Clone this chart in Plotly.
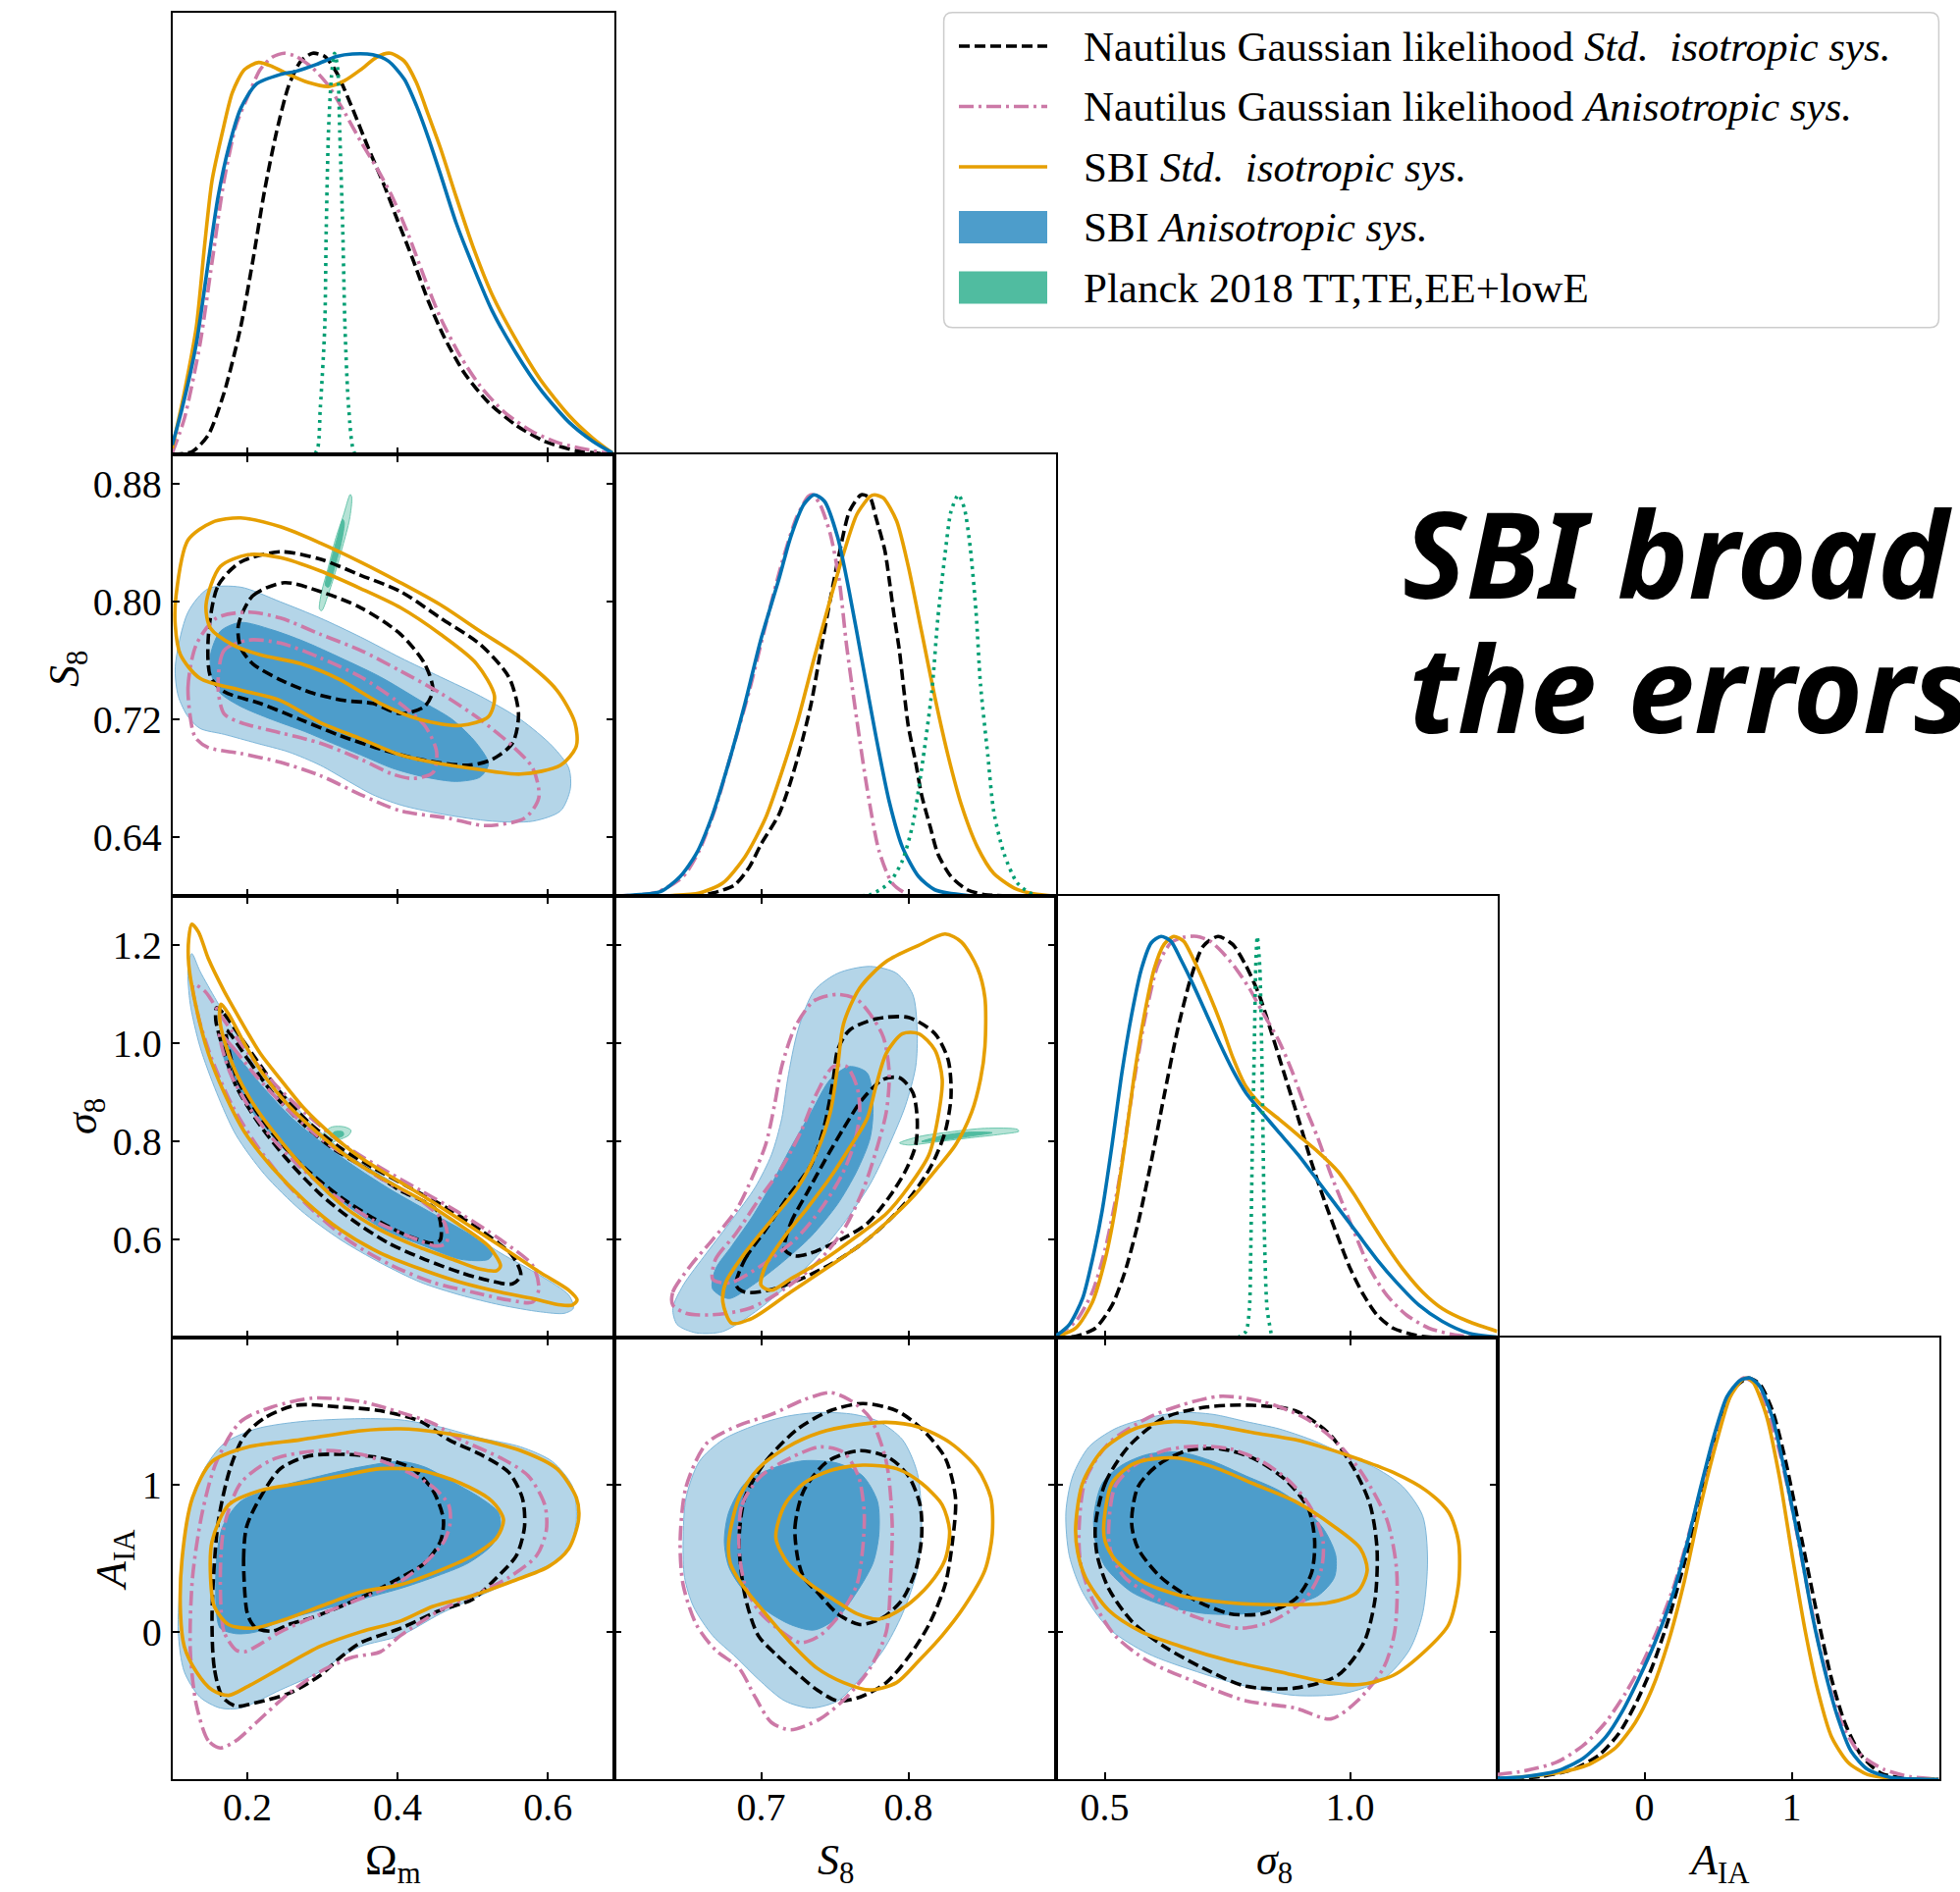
import plotly.graph_objects as go

# ---------------- parameter ranges and ticks ----------------
OM_RANGE = [0.1, 0.688]
S8_RANGE = [0.6, 0.9]
SIG8_RANGE = [0.4, 1.3]
AIA_RANGE = [-1.0, 2.0]
DENS_RANGE = [0.0, 1.1]

OM_XTICKS = [0.2, 0.4, 0.6]
OM_XTICK_TEXT = ["0.2", "0.4", "0.6"]
S8_XTICKS = [0.7, 0.8]
S8_XTICK_TEXT = ["0.7", "0.8"]
S8_YTICKS = [0.64, 0.72, 0.80, 0.88]
S8_YTICK_TEXT = ["0.64", "0.72", "0.80", "0.88"]
SIG8_XTICKS = [0.5, 1.0]
SIG8_XTICK_TEXT = ["0.5", "1.0"]
SIG8_YTICKS = [0.6, 0.8, 1.0, 1.2]
SIG8_YTICK_TEXT = ["0.6", "0.8", "1.0", "1.2"]
AIA_TICKS = [0, 1]
AIA_TICK_TEXT = ["0", "1"]

LEGEND_LABELS = [
    "Nautilus Gaussian likelihood <i>Std.  isotropic sys.</i>",
    "Nautilus Gaussian likelihood <i>Anisotropic sys.</i>",
    "SBI <i>Std.  isotropic sys.</i>",
    "SBI <i>Anisotropic sys.</i>",
    "Planck 2018 TT,TE,EE+lowE",
]

# ---------------- 1D marginals (normalised to peak = 1) ----------------
om_1d_sbi_aniso = dict(
    x=[0.100, 0.113, 0.132, 0.148, 0.161, 0.175, 0.191, 0.212, 0.244, 0.265, 0.292, 0.319, 0.340, 0.367,
       0.388, 0.409, 0.425, 0.441, 0.457, 0.478, 0.500, 0.526, 0.558, 0.590, 0.628, 0.660, 0.686],
    p=[0.024, 0.114, 0.276, 0.480, 0.642, 0.764, 0.862, 0.923, 0.947, 0.955, 0.972, 0.992, 0.998, 0.996,
       0.980, 0.935, 0.870, 0.789, 0.699, 0.577, 0.472, 0.358, 0.252, 0.163, 0.081, 0.033, 0.004])
om_1d_sbi_std = dict(
    x=[0.100, 0.116, 0.132, 0.143, 0.153, 0.167, 0.180, 0.196, 0.215, 0.233, 0.255, 0.281, 0.308, 0.329,
       0.351, 0.372, 0.390, 0.409, 0.425, 0.441, 0.457, 0.478, 0.500, 0.526, 0.558, 0.590, 0.628, 0.660, 0.686],
    p=[0.016, 0.154, 0.317, 0.520, 0.683, 0.805, 0.902, 0.959, 0.977, 0.967, 0.947, 0.927, 0.917, 0.931,
       0.959, 0.990, 1.000, 0.980, 0.927, 0.846, 0.764, 0.642, 0.520, 0.398, 0.285, 0.187, 0.098, 0.041, 0.004])
om_1d_nautilus_aniso = dict(
    x=[0.100, 0.116, 0.137, 0.153, 0.169, 0.185, 0.201, 0.217, 0.233, 0.249, 0.265, 0.287, 0.308, 0.329,
       0.351, 0.372, 0.393, 0.415, 0.436, 0.457, 0.484, 0.510, 0.542, 0.580, 0.617, 0.660, 0.686],
    p=[0.004, 0.089, 0.276, 0.480, 0.683, 0.821, 0.894, 0.959, 0.990, 1.000, 0.992, 0.963, 0.919, 0.854,
       0.780, 0.715, 0.642, 0.545, 0.439, 0.341, 0.244, 0.171, 0.106, 0.057, 0.028, 0.010, 0.002])
om_1d_nautilus_std = dict(
    x=[0.100, 0.127, 0.148, 0.169, 0.191, 0.207, 0.223, 0.239, 0.255, 0.271, 0.287, 0.303, 0.319, 0.340,
       0.361, 0.383, 0.398, 0.420, 0.441, 0.462, 0.489, 0.521, 0.558, 0.596, 0.638, 0.686],
    p=[0.000, 0.008, 0.049, 0.154, 0.317, 0.480, 0.659, 0.805, 0.919, 0.980, 1.000, 0.992, 0.951, 0.862,
       0.764, 0.667, 0.593, 0.488, 0.382, 0.293, 0.203, 0.130, 0.073, 0.033, 0.010, 0.000])
om_1d_planck = dict(
    x=[0.279, 0.292, 0.297, 0.303, 0.305, 0.308, 0.312, 0.316, 0.320, 0.323, 0.327, 0.330, 0.335, 0.343, 0.356],
    p=[0.000, 0.008, 0.114, 0.317, 0.561, 0.805, 0.943, 1.000, 0.967, 0.805, 0.561, 0.317, 0.114, 0.004, 0.000])

s8_1d_sbi_aniso = dict(
    x=[0.600, 0.618, 0.632, 0.645, 0.656, 0.667, 0.678, 0.689, 0.700, 0.712, 0.720, 0.729, 0.736, 0.743,
       0.752, 0.760, 0.769, 0.778, 0.787, 0.796, 0.807, 0.818, 0.840, 0.900],
    p=[0.000, 0.004, 0.012, 0.049, 0.106, 0.203, 0.333, 0.480, 0.642, 0.789, 0.894, 0.976, 1.000, 0.984,
       0.894, 0.756, 0.577, 0.398, 0.236, 0.122, 0.049, 0.016, 0.002, 0.000])
s8_1d_nautilus_aniso = dict(
    x=[0.600, 0.629, 0.647, 0.658, 0.669, 0.680, 0.692, 0.703, 0.714, 0.724, 0.732, 0.735, 0.740, 0.747,
       0.753, 0.758, 0.765, 0.772, 0.780, 0.789, 0.800, 0.818, 0.900],
    p=[0.000, 0.010, 0.049, 0.114, 0.220, 0.358, 0.512, 0.675, 0.829, 0.943, 0.996, 1.000, 0.976, 0.902,
       0.789, 0.626, 0.439, 0.268, 0.114, 0.033, 0.004, 0.000, 0.000])
s8_1d_sbi_std = dict(
    x=[0.600, 0.640, 0.658, 0.674, 0.689, 0.703, 0.714, 0.725, 0.736, 0.747, 0.756, 0.765, 0.774, 0.777,
       0.783, 0.792, 0.800, 0.809, 0.818, 0.827, 0.836, 0.847, 0.858, 0.872, 0.885, 0.900],
    p=[0.000, 0.002, 0.008, 0.033, 0.098, 0.195, 0.309, 0.439, 0.593, 0.740, 0.854, 0.951, 0.996, 1.000,
       0.992, 0.935, 0.821, 0.659, 0.496, 0.350, 0.228, 0.122, 0.057, 0.020, 0.006, 0.000])
s8_1d_nautilus_std = dict(
    x=[0.600, 0.652, 0.667, 0.682, 0.692, 0.700, 0.712, 0.720, 0.727, 0.734, 0.740, 0.747, 0.754, 0.760,
       0.768, 0.774, 0.778, 0.784, 0.787, 0.790, 0.794, 0.797, 0.800, 0.805, 0.809, 0.815, 0.820, 0.829,
       0.840, 0.852, 0.900],
    p=[0.000, 0.002, 0.008, 0.028, 0.073, 0.130, 0.203, 0.285, 0.374, 0.480, 0.602, 0.740, 0.870, 0.959,
       1.000, 0.992, 0.943, 0.862, 0.789, 0.707, 0.610, 0.512, 0.423, 0.333, 0.252, 0.171, 0.106, 0.049,
       0.016, 0.004, 0.000])
s8_1d_planck = dict(
    x=[0.752, 0.774, 0.787, 0.796, 0.803, 0.809, 0.816, 0.820, 0.825, 0.829, 0.834, 0.838, 0.842, 0.846,
       0.849, 0.854, 0.858, 0.865, 0.874, 0.885, 0.900],
    p=[0.000, 0.004, 0.033, 0.089, 0.179, 0.317, 0.512, 0.691, 0.854, 0.959, 1.000, 0.967, 0.870, 0.707,
       0.528, 0.350, 0.211, 0.106, 0.033, 0.004, 0.000])

sig8_1d_sbi_aniso = dict(
    x=[0.400, 0.428, 0.455, 0.475, 0.495, 0.515, 0.535, 0.555, 0.575, 0.595, 0.615, 0.635, 0.655, 0.681,
       0.708, 0.735, 0.761, 0.788, 0.821, 0.855, 0.895, 0.935, 0.975, 1.015, 1.055, 1.095, 1.141, 1.188,
       1.241, 1.300],
    p=[0.004, 0.033, 0.098, 0.195, 0.317, 0.480, 0.659, 0.805, 0.919, 0.984, 1.000, 0.988, 0.943, 0.878,
       0.805, 0.732, 0.667, 0.610, 0.561, 0.512, 0.455, 0.390, 0.325, 0.260, 0.195, 0.138, 0.081, 0.041,
       0.012, 0.002])
sig8_1d_sbi_std = dict(
    x=[0.400, 0.441, 0.475, 0.501, 0.521, 0.541, 0.561, 0.581, 0.601, 0.621, 0.641, 0.661, 0.681, 0.708,
       0.735, 0.761, 0.788, 0.815, 0.855, 0.895, 0.935, 0.975, 1.008, 1.041, 1.075, 1.108, 1.148, 1.188,
       1.241, 1.300],
    p=[0.002, 0.024, 0.089, 0.195, 0.317, 0.480, 0.659, 0.805, 0.919, 0.980, 1.000, 0.988, 0.943, 0.870,
       0.789, 0.699, 0.626, 0.585, 0.545, 0.504, 0.463, 0.415, 0.358, 0.293, 0.228, 0.171, 0.114, 0.073,
       0.041, 0.016])
sig8_1d_nautilus_aniso = dict(
    x=[0.400, 0.441, 0.475, 0.501, 0.528, 0.555, 0.581, 0.608, 0.635, 0.661, 0.688, 0.715, 0.741, 0.768,
       0.795, 0.821, 0.855, 0.881, 0.908, 0.935, 0.961, 0.988, 1.015, 1.041, 1.075, 1.115, 1.161, 1.221,
       1.300],
    p=[0.004, 0.041, 0.114, 0.220, 0.382, 0.602, 0.789, 0.927, 0.984, 0.998, 1.000, 0.988, 0.959, 0.919,
       0.870, 0.813, 0.740, 0.667, 0.577, 0.496, 0.407, 0.325, 0.244, 0.171, 0.106, 0.057, 0.024, 0.006,
       0.000])
sig8_1d_nautilus_std = dict(
    x=[0.400, 0.441, 0.481, 0.515, 0.541, 0.568, 0.595, 0.621, 0.648, 0.675, 0.701, 0.731, 0.761, 0.788,
       0.815, 0.841, 0.868, 0.895, 0.921, 0.948, 0.975, 1.001, 1.028, 1.055, 1.088, 1.135, 1.188, 1.300],
    p=[0.000, 0.004, 0.024, 0.081, 0.163, 0.285, 0.439, 0.602, 0.764, 0.894, 0.976, 1.000, 0.980, 0.927,
       0.854, 0.756, 0.650, 0.545, 0.439, 0.341, 0.252, 0.171, 0.106, 0.057, 0.024, 0.006, 0.000, 0.000])
sig8_1d_planck = dict(
    x=[0.771, 0.788, 0.795, 0.798, 0.801, 0.805, 0.808, 0.811, 0.816, 0.820, 0.823, 0.826, 0.831, 0.841],
    p=[0.000, 0.016, 0.073, 0.236, 0.480, 0.724, 0.927, 1.000, 0.927, 0.724, 0.480, 0.236, 0.073, 0.000])

aia_1d_sbi_aniso = dict(
    x=[-1.000, -0.818, -0.596, -0.418, -0.262, -0.151, -0.040, 0.071, 0.182, 0.293, 0.382, 0.471, 0.560,
       0.649, 0.716, 0.782, 0.871, 0.960, 1.049, 1.138, 1.227, 1.316, 1.404, 1.516, 1.671, 2.000],
    p=[0.003, 0.007, 0.021, 0.052, 0.106, 0.169, 0.250, 0.341, 0.449, 0.593, 0.728, 0.854, 0.953,
       0.994, 1.000, 0.980, 0.899, 0.755, 0.593, 0.413, 0.268, 0.151, 0.070, 0.025, 0.005, 0.000])
aia_1d_sbi_std = dict(
    x=[-1.000, -0.596, -0.373, -0.196, -0.062, 0.049, 0.160, 0.271, 0.382, 0.493, 0.582, 0.660, 0.693,
       0.738, 0.827, 0.916, 1.004, 1.093, 1.182, 1.271, 1.382, 1.516, 1.738, 2.000],
    p=[0.001, 0.016, 0.038, 0.079, 0.142, 0.223, 0.340, 0.494, 0.683, 0.845, 0.953, 0.994, 1.000,
       0.989, 0.908, 0.755, 0.557, 0.368, 0.215, 0.106, 0.043, 0.012, 0.001, 0.000])
aia_1d_nautilus_std = dict(
    x=[-1.000, -0.707, -0.484, -0.307, -0.173, -0.062, 0.049, 0.160, 0.271, 0.382, 0.493, 0.604, 0.704,
       0.782, 0.871, 0.960, 1.071, 1.182, 1.271, 1.360, 1.471, 1.604, 1.804, 2.000],
    p=[0.001, 0.007, 0.025, 0.061, 0.115, 0.187, 0.277, 0.395, 0.539, 0.701, 0.863, 0.971, 1.000,
       0.985, 0.917, 0.791, 0.593, 0.395, 0.250, 0.142, 0.061, 0.016, 0.001, 0.000])
aia_1d_nautilus_aniso = dict(
    x=[-1.000, -0.818, -0.596, -0.418, -0.262, -0.129, -0.018, 0.093, 0.204, 0.316, 0.404, 0.493, 0.582,
       0.671, 0.738, 0.827, 0.916, 1.004, 1.093, 1.182, 1.271, 1.360, 1.471, 1.627, 1.804, 2.000],
    p=[0.012, 0.021, 0.043, 0.084, 0.143, 0.215, 0.287, 0.377, 0.486, 0.630, 0.755, 0.872, 0.962,
       1.000, 0.989, 0.926, 0.818, 0.674, 0.503, 0.341, 0.214, 0.124, 0.061, 0.025, 0.007, 0.001])

# ---------------- 2D credible contours (68% / 95%) ----------------
# Omega_m vs S8
om_s8_sbi_aniso = dict(
    x95=[0.104, 0.121, 0.148, 0.191, 0.244, 0.297, 0.351, 0.404, 0.457, 0.510, 0.564, 0.606, 0.628, 0.630,
         0.617, 0.580, 0.526, 0.457, 0.404, 0.367, 0.335, 0.297, 0.255, 0.212, 0.169, 0.137, 0.121, 0.108],
    y95=[0.756, 0.793, 0.809, 0.810, 0.800, 0.789, 0.776, 0.762, 0.749, 0.736, 0.720, 0.702, 0.687, 0.673,
         0.658, 0.651, 0.651, 0.656, 0.662, 0.669, 0.678, 0.689, 0.698, 0.704, 0.710, 0.714, 0.722, 0.736],
    x68=[0.151, 0.164, 0.191, 0.233, 0.276, 0.324, 0.377, 0.430, 0.473, 0.505, 0.521, 0.510, 0.478, 0.436,
         0.393, 0.351, 0.313, 0.276, 0.233, 0.191, 0.164, 0.153],
    y68=[0.764, 0.780, 0.786, 0.781, 0.773, 0.762, 0.749, 0.733, 0.720, 0.704, 0.690, 0.681, 0.678, 0.681,
         0.687, 0.696, 0.704, 0.712, 0.720, 0.729, 0.738, 0.749])
om_s8_sbi_std = dict(
    x95=[0.105, 0.121, 0.153, 0.191, 0.244, 0.297, 0.351, 0.404, 0.457, 0.510, 0.564, 0.612, 0.636, 0.638,
         0.617, 0.564, 0.510, 0.457, 0.404, 0.351, 0.297, 0.244, 0.191, 0.137, 0.111, 0.104],
    y95=[0.804, 0.842, 0.854, 0.857, 0.851, 0.840, 0.827, 0.813, 0.798, 0.780, 0.762, 0.740, 0.718, 0.702,
         0.689, 0.683, 0.686, 0.690, 0.696, 0.707, 0.718, 0.733, 0.740, 0.748, 0.764, 0.784],
    x68=[0.145, 0.164, 0.201, 0.244, 0.297, 0.351, 0.404, 0.457, 0.505, 0.529, 0.521, 0.484, 0.430, 0.377,
         0.324, 0.271, 0.217, 0.180, 0.151],
    y68=[0.798, 0.824, 0.832, 0.830, 0.821, 0.809, 0.796, 0.778, 0.758, 0.736, 0.722, 0.716, 0.720, 0.731,
         0.747, 0.758, 0.764, 0.771, 0.782])
om_s8_nautilus_std = dict(
    x95=[0.148, 0.161, 0.191, 0.244, 0.297, 0.351, 0.404, 0.457, 0.510, 0.548, 0.561, 0.553, 0.526, 0.494,
         0.430, 0.377, 0.324, 0.271, 0.217, 0.169, 0.151],
    y95=[0.776, 0.811, 0.827, 0.834, 0.829, 0.818, 0.807, 0.789, 0.771, 0.749, 0.724, 0.704, 0.693, 0.689,
         0.693, 0.700, 0.709, 0.720, 0.731, 0.739, 0.749],
    x68=[0.188, 0.207, 0.249, 0.297, 0.351, 0.404, 0.436, 0.447, 0.436, 0.404, 0.367, 0.329, 0.287, 0.244,
         0.207, 0.191],
    y68=[0.784, 0.804, 0.813, 0.807, 0.796, 0.778, 0.758, 0.740, 0.729, 0.724, 0.731, 0.733, 0.738, 0.747,
         0.758, 0.769])
om_s8_nautilus_aniso = dict(
    x95=[0.127, 0.121, 0.132, 0.159, 0.201, 0.244, 0.297, 0.351, 0.404, 0.457, 0.510, 0.553, 0.580, 0.588,
         0.569, 0.516, 0.468, 0.404, 0.351, 0.297, 0.244, 0.191, 0.148, 0.132],
    y95=[0.713, 0.742, 0.771, 0.789, 0.793, 0.789, 0.778, 0.767, 0.753, 0.738, 0.720, 0.702, 0.687, 0.667,
         0.653, 0.648, 0.653, 0.658, 0.669, 0.682, 0.691, 0.697, 0.701, 0.707],
    x68=[0.161, 0.169, 0.201, 0.244, 0.297, 0.351, 0.398, 0.436, 0.452, 0.447, 0.420, 0.393, 0.351, 0.297,
         0.244, 0.191, 0.169],
    y68=[0.742, 0.767, 0.774, 0.772, 0.762, 0.749, 0.733, 0.716, 0.698, 0.684, 0.680, 0.683, 0.693, 0.704,
         0.711, 0.718, 0.724])
om_s8_planck = dict(
    x95=[0.296, 0.299, 0.307, 0.317, 0.328, 0.337, 0.339, 0.336, 0.327, 0.317, 0.307, 0.299],
    y95=[0.795, 0.807, 0.822, 0.842, 0.859, 0.873, 0.871, 0.856, 0.838, 0.820, 0.804, 0.794],
    x68=[0.304, 0.311, 0.320, 0.327, 0.329, 0.325, 0.316, 0.308],
    y68=[0.811, 0.827, 0.844, 0.856, 0.854, 0.840, 0.823, 0.810])

# Omega_m vs sigma8
om_sig8_sbi_aniso = dict(
    x95=[0.126, 0.137, 0.159, 0.185, 0.217, 0.255, 0.297, 0.340, 0.383, 0.431, 0.484, 0.537, 0.590, 0.628,
         0.634, 0.622, 0.590, 0.537, 0.484, 0.431, 0.377, 0.324, 0.271, 0.223, 0.185, 0.159, 0.137, 0.124,
         0.121],
    y95=[1.183, 1.147, 1.087, 1.020, 0.953, 0.887, 0.820, 0.767, 0.727, 0.680, 0.627, 0.573, 0.527, 0.487,
         0.460, 0.450, 0.453, 0.467, 0.487, 0.513, 0.553, 0.600, 0.660, 0.733, 0.813, 0.900, 0.993, 1.080,
         1.153],
    x68=[0.164, 0.191, 0.223, 0.260, 0.303, 0.345, 0.393, 0.447, 0.500, 0.526, 0.521, 0.484, 0.436, 0.383,
         0.335, 0.287, 0.244, 0.207, 0.180, 0.167],
    y68=[1.020, 0.967, 0.907, 0.847, 0.793, 0.747, 0.700, 0.653, 0.607, 0.573, 0.560, 0.560, 0.587, 0.620,
         0.667, 0.727, 0.793, 0.860, 0.927, 0.980])
om_sig8_sbi_std = dict(
    x95=[0.126, 0.135, 0.148, 0.169, 0.191, 0.217, 0.244, 0.276, 0.313, 0.351, 0.393, 0.436, 0.484, 0.537,
         0.590, 0.628, 0.639, 0.633, 0.617, 0.580, 0.537, 0.484, 0.431, 0.377, 0.324, 0.276, 0.233, 0.196,
         0.169, 0.148, 0.132, 0.122, 0.122],
    y95=[1.243, 1.227, 1.173, 1.107, 1.047, 0.980, 0.927, 0.867, 0.813, 0.767, 0.727, 0.687, 0.640, 0.587,
         0.533, 0.497, 0.477, 0.467, 0.467, 0.480, 0.493, 0.513, 0.540, 0.573, 0.620, 0.680, 0.747, 0.820,
         0.900, 0.980, 1.073, 1.160, 1.213],
    x68=[0.165, 0.175, 0.196, 0.223, 0.255, 0.292, 0.335, 0.377, 0.425, 0.473, 0.521, 0.537, 0.532, 0.510,
         0.473, 0.425, 0.377, 0.329, 0.287, 0.249, 0.212, 0.185, 0.169, 0.163],
    y68=[1.080, 1.060, 1.000, 0.933, 0.873, 0.820, 0.767, 0.727, 0.687, 0.640, 0.587, 0.547, 0.537, 0.540,
         0.560, 0.587, 0.620, 0.667, 0.727, 0.793, 0.867, 0.940, 1.007, 1.053])
om_sig8_nautilus_std = dict(
    x95=[0.159, 0.169, 0.191, 0.212, 0.244, 0.281, 0.324, 0.367, 0.415, 0.463, 0.510, 0.553, 0.564, 0.553,
         0.521, 0.484, 0.436, 0.388, 0.340, 0.297, 0.255, 0.217, 0.185, 0.167, 0.158],
    y95=[1.073, 1.060, 1.013, 0.967, 0.900, 0.840, 0.787, 0.747, 0.707, 0.667, 0.620, 0.567, 0.527, 0.510,
         0.517, 0.533, 0.560, 0.593, 0.640, 0.693, 0.760, 0.833, 0.913, 0.993, 1.047],
    x68=[0.172, 0.201, 0.233, 0.271, 0.313, 0.356, 0.404, 0.452, 0.457, 0.447, 0.415, 0.372, 0.324, 0.276,
         0.239, 0.207, 0.185],
    y68=[1.027, 0.967, 0.900, 0.840, 0.787, 0.747, 0.700, 0.660, 0.600, 0.593, 0.607, 0.640, 0.687, 0.747,
         0.807, 0.873, 0.933])
om_sig8_nautilus_aniso = dict(
    x95=[0.128, 0.143, 0.169, 0.201, 0.239, 0.281, 0.329, 0.377, 0.431, 0.484, 0.537, 0.580, 0.588, 0.580,
         0.548, 0.500, 0.447, 0.393, 0.340, 0.292, 0.249, 0.212, 0.180, 0.153, 0.135],
    y95=[1.120, 1.107, 1.047, 0.980, 0.913, 0.853, 0.793, 0.747, 0.700, 0.653, 0.600, 0.547, 0.500, 0.473,
         0.477, 0.493, 0.513, 0.547, 0.593, 0.653, 0.720, 0.793, 0.873, 0.967, 1.053],
    x68=[0.163, 0.180, 0.212, 0.249, 0.292, 0.335, 0.383, 0.431, 0.463, 0.465, 0.452, 0.415, 0.367, 0.319,
         0.271, 0.233, 0.201, 0.177, 0.166],
    y68=[1.020, 0.993, 0.933, 0.873, 0.813, 0.767, 0.720, 0.680, 0.633, 0.593, 0.587, 0.607, 0.640, 0.687,
         0.747, 0.807, 0.873, 0.940, 0.993])
om_sig8_planck = dict(
    x95=[0.297, 0.303, 0.313, 0.329, 0.338, 0.335, 0.321, 0.308],
    y95=[0.803, 0.820, 0.830, 0.830, 0.823, 0.813, 0.803, 0.797],
    x68=[0.311, 0.316, 0.327, 0.328, 0.319],
    y68=[0.810, 0.820, 0.820, 0.813, 0.807])

# S8 vs sigma8
s8_sig8_sbi_aniso = dict(
    x95=[0.656, 0.643, 0.640, 0.647, 0.663, 0.680, 0.696, 0.707, 0.714, 0.718, 0.725, 0.736, 0.752, 0.774,
         0.792, 0.803, 0.806, 0.805, 0.798, 0.787, 0.774, 0.756, 0.738, 0.718, 0.696, 0.674],
    y95=[0.410, 0.427, 0.460, 0.507, 0.573, 0.640, 0.707, 0.773, 0.847, 0.927, 1.027, 1.107, 1.143, 1.157,
         1.143, 1.100, 1.027, 0.953, 0.873, 0.793, 0.713, 0.633, 0.567, 0.507, 0.453, 0.413],
    x68=[0.667, 0.669, 0.680, 0.694, 0.707, 0.720, 0.734, 0.747, 0.760, 0.772, 0.776, 0.774, 0.765, 0.752,
         0.734, 0.714, 0.694, 0.678],
    y68=[0.500, 0.540, 0.587, 0.647, 0.713, 0.787, 0.860, 0.927, 0.953, 0.940, 0.873, 0.807, 0.740, 0.673,
         0.607, 0.553, 0.507, 0.480])
s8_sig8_sbi_std = dict(
    x95=[0.674, 0.676, 0.689, 0.707, 0.725, 0.738, 0.747, 0.752, 0.756, 0.767, 0.785, 0.807, 0.825, 0.836,
         0.847, 0.852, 0.852, 0.849, 0.843, 0.832, 0.818, 0.803, 0.787, 0.769, 0.747, 0.720, 0.694, 0.680],
    y95=[0.473, 0.513, 0.573, 0.640, 0.707, 0.780, 0.860, 0.953, 1.040, 1.113, 1.167, 1.200, 1.223, 1.207,
         1.153, 1.093, 0.993, 0.927, 0.860, 0.793, 0.740, 0.687, 0.640, 0.593, 0.547, 0.493, 0.440, 0.430],
    x68=[0.700, 0.703, 0.716, 0.732, 0.747, 0.760, 0.772, 0.778, 0.785, 0.796, 0.807, 0.818, 0.823, 0.820,
         0.814, 0.800, 0.785, 0.765, 0.743, 0.720, 0.707],
    y68=[0.507, 0.547, 0.607, 0.667, 0.727, 0.787, 0.847, 0.913, 0.980, 1.020, 1.020, 0.987, 0.927, 0.847,
         0.773, 0.707, 0.653, 0.607, 0.560, 0.520, 0.497])
s8_sig8_nautilus_std = dict(
    x95=[0.683, 0.689, 0.703, 0.718, 0.734, 0.743, 0.749, 0.752, 0.760, 0.778, 0.800, 0.818, 0.827, 0.829,
         0.825, 0.816, 0.803, 0.787, 0.769, 0.749, 0.727, 0.705, 0.689],
    y95=[0.507, 0.560, 0.620, 0.687, 0.753, 0.833, 0.927, 0.987, 1.027, 1.050, 1.053, 1.020, 0.967, 0.893,
         0.820, 0.753, 0.693, 0.640, 0.593, 0.553, 0.520, 0.497, 0.493],
    x68=[0.716, 0.720, 0.732, 0.743, 0.756, 0.769, 0.783, 0.794, 0.803, 0.806, 0.805, 0.798, 0.787, 0.772,
         0.754, 0.734, 0.723],
    y68=[0.580, 0.633, 0.700, 0.760, 0.827, 0.887, 0.927, 0.930, 0.900, 0.847, 0.793, 0.740, 0.687, 0.633,
         0.600, 0.573, 0.567])
s8_sig8_nautilus_aniso = dict(
    x95=[0.640, 0.640, 0.652, 0.667, 0.683, 0.694, 0.703, 0.709, 0.714, 0.723, 0.736, 0.752, 0.765, 0.774,
         0.783, 0.787, 0.785, 0.778, 0.769, 0.756, 0.738, 0.716, 0.692, 0.667, 0.649],
    y95=[0.467, 0.493, 0.547, 0.600, 0.660, 0.727, 0.793, 0.873, 0.953, 1.033, 1.087, 1.100, 1.090, 1.060,
         1.013, 0.940, 0.860, 0.780, 0.700, 0.620, 0.553, 0.500, 0.460, 0.447, 0.450],
    x68=[0.667, 0.669, 0.683, 0.698, 0.714, 0.727, 0.738, 0.749, 0.758, 0.765, 0.767, 0.763, 0.754, 0.740,
         0.723, 0.700, 0.680, 0.672],
    y68=[0.520, 0.560, 0.613, 0.680, 0.747, 0.820, 0.900, 0.953, 0.953, 0.913, 0.860, 0.793, 0.727, 0.660,
         0.600, 0.547, 0.513, 0.513])
s8_sig8_planck = dict(
    x95=[0.794, 0.807, 0.829, 0.852, 0.874, 0.875, 0.863, 0.840, 0.818, 0.800],
    y95=[0.797, 0.810, 0.820, 0.827, 0.825, 0.821, 0.815, 0.807, 0.799, 0.793],
    x68=[0.809, 0.823, 0.840, 0.857, 0.840, 0.823],
    y68=[0.800, 0.812, 0.819, 0.818, 0.810, 0.803])

# Omega_m vs A_IA
om_aia_sbi_aniso = dict(
    x95=[0.108, 0.111, 0.121, 0.143, 0.169, 0.212, 0.271, 0.351, 0.404, 0.457, 0.510, 0.564, 0.606, 0.633,
         0.638, 0.628, 0.606, 0.564, 0.510, 0.457, 0.404, 0.351, 0.324, 0.297, 0.244, 0.191, 0.164, 0.137,
         0.116],
    y95=[0.003, 0.372, 0.815, 1.111, 1.283, 1.382, 1.431, 1.451, 1.443, 1.394, 1.320, 1.259, 1.160, 0.988,
         0.766, 0.569, 0.470, 0.372, 0.249, 0.126, -0.022, -0.096, -0.170, -0.268, -0.392, -0.515, -0.515,
         -0.441, -0.268],
    x68=[0.159, 0.159, 0.167, 0.191, 0.233, 0.297, 0.351, 0.404, 0.436, 0.468, 0.510, 0.534, 0.537, 0.526,
         0.494, 0.447, 0.404, 0.351, 0.297, 0.244, 0.212, 0.185, 0.164],
    y68=[0.126, 0.495, 0.717, 0.889, 0.975, 1.062, 1.123, 1.160, 1.123, 1.037, 0.914, 0.815, 0.717, 0.594,
         0.470, 0.372, 0.298, 0.224, 0.150, 0.076, 0.003, -0.010, 0.027])
om_aia_sbi_std = dict(
    x95=[0.111, 0.113, 0.127, 0.153, 0.201, 0.271, 0.351, 0.404, 0.457, 0.510, 0.564, 0.612, 0.638, 0.641,
         0.628, 0.601, 0.553, 0.500, 0.447, 0.404, 0.351, 0.297, 0.244, 0.201, 0.175, 0.153, 0.132, 0.116],
    y95=[0.126, 0.495, 0.914, 1.160, 1.259, 1.308, 1.369, 1.382, 1.357, 1.308, 1.234, 1.111, 0.914, 0.766,
         0.569, 0.446, 0.347, 0.249, 0.175, 0.076, 0.003, -0.096, -0.244, -0.367, -0.429, -0.392, -0.268,
         -0.096],
    x68=[0.151, 0.153, 0.175, 0.217, 0.271, 0.324, 0.377, 0.431, 0.484, 0.526, 0.541, 0.532, 0.500, 0.457,
         0.404, 0.351, 0.297, 0.244, 0.207, 0.175, 0.156],
    y68=[0.372, 0.618, 0.865, 0.963, 1.012, 1.062, 1.111, 1.099, 1.012, 0.889, 0.766, 0.643, 0.520, 0.421,
         0.323, 0.273, 0.175, 0.076, 0.027, 0.052, 0.175])
om_aia_nautilus_std = dict(
    x95=[0.167, 0.156, 0.153, 0.161, 0.177, 0.196, 0.223, 0.265, 0.324, 0.377, 0.431, 0.468, 0.510, 0.548,
         0.566, 0.569, 0.558, 0.532, 0.500, 0.457, 0.404, 0.351, 0.324, 0.297, 0.255, 0.212, 0.185],
    y95=[-0.441, -0.244, 0.126, 0.741, 1.111, 1.333, 1.456, 1.542, 1.530, 1.505, 1.431, 1.308, 1.209, 1.086,
         0.914, 0.717, 0.520, 0.372, 0.224, 0.150, 0.027, -0.071, -0.170, -0.293, -0.416, -0.478, -0.502],
    x68=[0.199, 0.195, 0.199, 0.217, 0.244, 0.281, 0.324, 0.377, 0.420, 0.447, 0.461, 0.457, 0.436, 0.404,
         0.367, 0.324, 0.287, 0.255, 0.233, 0.212, 0.204],
    y68=[0.150, 0.495, 0.717, 0.914, 1.111, 1.197, 1.209, 1.185, 1.111, 0.963, 0.766, 0.618, 0.470, 0.372,
         0.273, 0.175, 0.101, 0.052, 0.007, 0.027, 0.076])
om_aia_nautilus_aniso = dict(
    x95=[0.164, 0.148, 0.132, 0.124, 0.127, 0.140, 0.159, 0.191, 0.233, 0.287, 0.351, 0.404, 0.447, 0.484,
         0.537, 0.574, 0.596, 0.598, 0.585, 0.548, 0.510, 0.457, 0.404, 0.377, 0.340, 0.297, 0.255, 0.212,
         0.185],
    y95=[-0.786, -0.736, -0.490, -0.121, 0.372, 0.815, 1.160, 1.431, 1.530, 1.591, 1.567, 1.493, 1.419, 1.308,
         1.185, 1.062, 0.865, 0.692, 0.520, 0.372, 0.273, 0.150, -0.022, -0.133, -0.170, -0.268, -0.416,
         -0.613, -0.736],
    x68=[0.185, 0.169, 0.164, 0.169, 0.191, 0.233, 0.297, 0.351, 0.404, 0.447, 0.468, 0.470, 0.462, 0.436,
         0.404, 0.361, 0.324, 0.287, 0.244, 0.212, 0.196],
    y68=[-0.121, 0.003, 0.372, 0.717, 1.012, 1.172, 1.234, 1.209, 1.111, 0.988, 0.865, 0.741, 0.618, 0.470,
         0.347, 0.249, 0.175, 0.101, 0.003, -0.096, -0.133])

# S8 vs A_IA
s8_aia_sbi_aniso = dict(
    x95=[0.647, 0.649, 0.658, 0.674, 0.696, 0.718, 0.740, 0.763, 0.780, 0.796, 0.806, 0.809, 0.806, 0.796,
         0.783, 0.767, 0.752, 0.734, 0.716, 0.698, 0.683, 0.667, 0.654, 0.648],
    y95=[0.618, 0.914, 1.160, 1.308, 1.406, 1.468, 1.493, 1.480, 1.431, 1.308, 1.086, 0.741, 0.421, 0.126,
         -0.121, -0.318, -0.466, -0.515, -0.466, -0.318, -0.170, -0.022, 0.175, 0.372],
    x68=[0.675, 0.678, 0.689, 0.707, 0.729, 0.752, 0.769, 0.779, 0.780, 0.776, 0.765, 0.752, 0.736, 0.720,
         0.703, 0.687, 0.678],
    y68=[0.618, 0.815, 1.012, 1.111, 1.165, 1.148, 1.062, 0.889, 0.667, 0.470, 0.273, 0.101, 0.015, 0.052,
         0.150, 0.298, 0.446])
s8_aia_sbi_std = dict(
    x95=[0.678, 0.685, 0.698, 0.718, 0.740, 0.763, 0.785, 0.807, 0.829, 0.847, 0.856, 0.857, 0.852, 0.838,
         0.823, 0.807, 0.792, 0.774, 0.756, 0.738, 0.720, 0.703, 0.687, 0.679],
    y95=[0.618, 0.914, 1.111, 1.259, 1.357, 1.406, 1.426, 1.394, 1.283, 1.111, 0.914, 0.667, 0.421, 0.175,
         -0.022, -0.195, -0.342, -0.392, -0.342, -0.244, -0.071, 0.126, 0.323, 0.470],
    x68=[0.710, 0.716, 0.729, 0.747, 0.769, 0.792, 0.809, 0.823, 0.828, 0.825, 0.814, 0.798, 0.780, 0.765,
         0.749, 0.734, 0.718],
    y68=[0.643, 0.865, 1.012, 1.099, 1.135, 1.111, 1.012, 0.865, 0.692, 0.495, 0.323, 0.175, 0.089, 0.126,
         0.224, 0.323, 0.470])
s8_aia_nautilus_std = dict(
    x95=[0.698, 0.689, 0.685, 0.689, 0.703, 0.725, 0.747, 0.769, 0.792, 0.809, 0.825, 0.832, 0.830, 0.825,
         0.814, 0.800, 0.785, 0.767, 0.752, 0.738, 0.723, 0.710],
    y95=[-0.022, 0.249, 0.618, 0.914, 1.160, 1.382, 1.505, 1.554, 1.505, 1.382, 1.185, 0.914, 0.618, 0.323,
         0.052, -0.170, -0.342, -0.441, -0.466, -0.392, -0.268, -0.150],
    x68=[0.725, 0.723, 0.729, 0.745, 0.767, 0.787, 0.800, 0.808, 0.809, 0.805, 0.796, 0.783, 0.767, 0.752,
         0.738, 0.729],
    y68=[0.495, 0.717, 0.963, 1.160, 1.234, 1.185, 1.062, 0.865, 0.643, 0.421, 0.224, 0.101, 0.052, 0.126,
         0.273, 0.372])
s8_aia_nautilus_aniso = dict(
    x95=[0.645, 0.649, 0.663, 0.685, 0.707, 0.729, 0.747, 0.760, 0.774, 0.785, 0.789, 0.788, 0.785, 0.774,
         0.758, 0.740, 0.720, 0.707, 0.696, 0.685, 0.669, 0.656, 0.647],
    y95=[0.618, 0.988, 1.283, 1.406, 1.480, 1.579, 1.628, 1.579, 1.456, 1.160, 0.741, 0.372, 0.003, -0.244,
         -0.441, -0.589, -0.663, -0.613, -0.441, -0.244, -0.121, 0.052, 0.323],
    x68=[0.685, 0.687, 0.700, 0.720, 0.740, 0.756, 0.766, 0.770, 0.769, 0.765, 0.754, 0.740, 0.727, 0.714,
         0.698, 0.689],
    y68=[0.569, 0.865, 1.062, 1.185, 1.259, 1.222, 1.062, 0.815, 0.569, 0.323, 0.126, -0.022, -0.071, 0.003,
         0.150, 0.323])

# sigma8 vs A_IA
sig8_aia_sbi_aniso = dict(
    x95=[0.421, 0.435, 0.468, 0.521, 0.588, 0.655, 0.721, 0.788, 0.855, 0.921, 0.988, 1.055, 1.108, 1.148,
         1.158, 1.148, 1.121, 1.068, 0.988, 0.888, 0.788, 0.688, 0.588, 0.508, 0.455, 0.428],
    y95=[0.815, 1.062, 1.259, 1.382, 1.456, 1.493, 1.480, 1.431, 1.382, 1.308, 1.209, 1.111, 0.988, 0.791,
         0.495, 0.126, -0.121, -0.318, -0.416, -0.429, -0.367, -0.268, -0.145, 0.027, 0.273, 0.520],
    x68=[0.478, 0.495, 0.535, 0.588, 0.655, 0.721, 0.788, 0.855, 0.908, 0.948, 0.971, 0.968, 0.935, 0.868,
         0.788, 0.708, 0.628, 0.555, 0.501, 0.481],
    y68=[0.791, 1.012, 1.135, 1.209, 1.222, 1.160, 1.062, 0.963, 0.840, 0.692, 0.520, 0.372, 0.249, 0.175,
         0.126, 0.126, 0.175, 0.273, 0.446, 0.618])
sig8_aia_sbi_std = dict(
    x95=[0.441, 0.455, 0.495, 0.561, 0.641, 0.721, 0.801, 0.888, 0.955, 1.021, 1.088, 1.155, 1.201, 1.221,
         1.221, 1.201, 1.155, 1.088, 1.021, 0.955, 0.855, 0.755, 0.655, 0.575, 0.508, 0.461, 0.445],
    y95=[0.717, 1.012, 1.234, 1.382, 1.431, 1.406, 1.357, 1.308, 1.246, 1.172, 1.086, 0.963, 0.815, 0.618,
         0.323, 0.052, -0.121, -0.293, -0.355, -0.342, -0.268, -0.195, -0.096, 0.003, 0.150, 0.372, 0.544],
    x68=[0.498, 0.515, 0.561, 0.641, 0.721, 0.801, 0.888, 0.968, 1.021, 1.035, 1.015, 0.955, 0.855, 0.755,
         0.655, 0.575, 0.521, 0.501],
    y68=[0.717, 1.012, 1.148, 1.185, 1.123, 1.012, 0.889, 0.717, 0.569, 0.421, 0.273, 0.200, 0.187, 0.200,
         0.249, 0.347, 0.495, 0.618])
sig8_aia_nautilus_std = dict(
    x95=[0.481, 0.501, 0.548, 0.621, 0.708, 0.801, 0.888, 0.955, 1.008, 1.041, 1.055, 1.051, 1.028, 0.975,
         0.888, 0.788, 0.701, 0.621, 0.555, 0.508, 0.485],
    y95=[0.717, 1.012, 1.259, 1.456, 1.530, 1.542, 1.505, 1.357, 1.111, 0.865, 0.569, 0.224, -0.071, -0.293,
         -0.379, -0.367, -0.244, -0.096, 0.076, 0.298, 0.520],
    x68=[0.555, 0.568, 0.608, 0.668, 0.735, 0.801, 0.868, 0.915, 0.928, 0.921, 0.888, 0.821, 0.755, 0.681,
         0.615, 0.568],
    y68=[0.741, 0.988, 1.135, 1.234, 1.246, 1.185, 1.037, 0.840, 0.618, 0.397, 0.224, 0.126, 0.126, 0.224,
         0.372, 0.569])
sig8_aia_nautilus_aniso = dict(
    x95=[0.448, 0.461, 0.508, 0.588, 0.655, 0.735, 0.821, 0.908, 0.975, 1.028, 1.075, 1.095, 1.091, 1.068,
         1.015, 0.961, 0.888, 0.788, 0.688, 0.588, 0.521, 0.475, 0.451],
    y95=[0.717, 1.037, 1.283, 1.456, 1.542, 1.603, 1.567, 1.456, 1.283, 1.062, 0.766, 0.421, 0.003, -0.244,
         -0.466, -0.589, -0.515, -0.466, -0.342, -0.195, -0.022, 0.224, 0.470],
    x68=[0.508, 0.521, 0.561, 0.621, 0.688, 0.755, 0.821, 0.881, 0.921, 0.945, 0.941, 0.908, 0.841, 0.775,
         0.688, 0.608, 0.541, 0.515],
    y68=[0.667, 0.988, 1.135, 1.234, 1.264, 1.246, 1.160, 1.012, 0.840, 0.618, 0.421, 0.224, 0.076, 0.027,
         0.101, 0.224, 0.372, 0.520])

# ---------------- styling ----------------
W, H = 1997, 1928
PANEL = 450.0
COL_LEFT = [175.5, 625.5, 1075.5, 1525.5]
ROW_TOP = [13.3, 463.3, 913.3, 1363.3]
SERIF = "Liberation Serif"

STYLE = {
    "nautilus_std": dict(color="#000000", dash="11px,5px"),
    "nautilus_aniso": dict(color="#CC79A7", dash="15px,5px,3px,5px"),
    "sbi_std": dict(color="#E69F00", dash="solid"),
    "sbi_aniso": dict(color="#0072B2", dash="solid"),
    "planck": dict(color="#009E73", dash="3px,5px"),
}
FILL = {
    "sbi_aniso": dict(c95="#B4D5E8", c68="#4D9DCB", edge="#7DB6D9"),
    "planck": dict(c95="#B6E3D6", c68="#50BCA0", edge="#6CC7AE"),
}
LW = 3.6

PARAMS = ["om", "s8", "sig8", "aia"]
RANGES = {"om": OM_RANGE, "s8": S8_RANGE, "sig8": SIG8_RANGE, "aia": AIA_RANGE}
XTICKS = {"om": (OM_XTICKS, OM_XTICK_TEXT), "s8": (S8_XTICKS, S8_XTICK_TEXT),
          "sig8": (SIG8_XTICKS, SIG8_XTICK_TEXT), "aia": (AIA_TICKS, AIA_TICK_TEXT)}
YTICKS = {"s8": (S8_YTICKS, S8_YTICK_TEXT), "sig8": (SIG8_YTICKS, SIG8_YTICK_TEXT),
          "aia": (AIA_TICKS, AIA_TICK_TEXT)}

ONE_D = {
    "om": [("nautilus_std", om_1d_nautilus_std), ("nautilus_aniso", om_1d_nautilus_aniso),
           ("sbi_std", om_1d_sbi_std), ("sbi_aniso", om_1d_sbi_aniso), ("planck", om_1d_planck)],
    "s8": [("nautilus_std", s8_1d_nautilus_std), ("nautilus_aniso", s8_1d_nautilus_aniso),
           ("sbi_std", s8_1d_sbi_std), ("sbi_aniso", s8_1d_sbi_aniso), ("planck", s8_1d_planck)],
    "sig8": [("nautilus_std", sig8_1d_nautilus_std), ("nautilus_aniso", sig8_1d_nautilus_aniso),
             ("sbi_std", sig8_1d_sbi_std), ("sbi_aniso", sig8_1d_sbi_aniso), ("planck", sig8_1d_planck)],
    "aia": [("nautilus_std", aia_1d_nautilus_std), ("nautilus_aniso", aia_1d_nautilus_aniso),
            ("sbi_std", aia_1d_sbi_std), ("sbi_aniso", aia_1d_sbi_aniso)],
}
TWO_D = {
    ("om", "s8"): dict(nautilus_std=om_s8_nautilus_std, nautilus_aniso=om_s8_nautilus_aniso,
                       sbi_std=om_s8_sbi_std, sbi_aniso=om_s8_sbi_aniso, planck=om_s8_planck),
    ("om", "sig8"): dict(nautilus_std=om_sig8_nautilus_std, nautilus_aniso=om_sig8_nautilus_aniso,
                         sbi_std=om_sig8_sbi_std, sbi_aniso=om_sig8_sbi_aniso, planck=om_sig8_planck),
    ("s8", "sig8"): dict(nautilus_std=s8_sig8_nautilus_std, nautilus_aniso=s8_sig8_nautilus_aniso,
                         sbi_std=s8_sig8_sbi_std, sbi_aniso=s8_sig8_sbi_aniso, planck=s8_sig8_planck),
    ("om", "aia"): dict(nautilus_std=om_aia_nautilus_std, nautilus_aniso=om_aia_nautilus_aniso,
                        sbi_std=om_aia_sbi_std, sbi_aniso=om_aia_sbi_aniso),
    ("s8", "aia"): dict(nautilus_std=s8_aia_nautilus_std, nautilus_aniso=s8_aia_nautilus_aniso,
                        sbi_std=s8_aia_sbi_std, sbi_aniso=s8_aia_sbi_aniso),
    ("sig8", "aia"): dict(nautilus_std=sig8_aia_nautilus_std, nautilus_aniso=sig8_aia_nautilus_aniso,
                          sbi_std=sig8_aia_sbi_std, sbi_aniso=sig8_aia_sbi_aniso),
}

PANELS = [(0, 0), (1, 0), (1, 1), (2, 0), (2, 1), (2, 2), (3, 0), (3, 1), (3, 2), (3, 3)]

fig = go.Figure()
layout = dict(width=W, height=H, margin=dict(l=0, r=0, t=0, b=0),
              paper_bgcolor="white", plot_bgcolor="white", showlegend=False,
              font=dict(family=SERIF, size=40, color="black"))


def closed(v):
    return list(v) + [v[0]]


def axis_common():
    return dict(showgrid=False, zeroline=False, showline=True, linecolor="black", linewidth=1.6,
                tickcolor="black", tickwidth=1.5, ticklen=8,
                tickfont=dict(family=SERIF, size=40, color="black"))


for k, (r, c) in enumerate(PANELS, start=1):
    sfx = "" if k == 1 else str(k)
    xref, yref = "x" + sfx, "y" + sfx
    x0 = COL_LEFT[c] / W
    x1 = (COL_LEFT[c] + PANEL) / W
    y1 = 1 - ROW_TOP[r] / H
    y0 = 1 - (ROW_TOP[r] + PANEL) / H
    xp = PARAMS[c]
    is1d = (r == c)

    xa = axis_common()
    xa.update(domain=[x0, x1], anchor=yref, range=RANGES[xp], tickmode="array",
              tickvals=XTICKS[xp][0], ticktext=XTICKS[xp][1], ticks="inside",
              showticklabels=(r == 3), mirror=(True if is1d else "ticks"), ticklabelstandoff=-8)
    ya = axis_common()
    if is1d:
        ya.update(domain=[y0, y1], anchor=xref, range=DENS_RANGE, ticks="", showticklabels=False,
                  mirror=True)
    else:
        yp = PARAMS[r]
        ya.update(domain=[y0, y1], anchor=xref, range=RANGES[yp], tickmode="array",
                  tickvals=YTICKS[yp][0], ticktext=YTICKS[yp][1], ticks="inside",
                  showticklabels=(c == 0), mirror="ticks", ticklabelstandoff=1)
    layout["xaxis" + sfx] = xa
    layout["yaxis" + sfx] = ya

    if is1d:
        for key, cur in ONE_D[xp]:
            st = STYLE[key]
            fig.add_trace(go.Scatter(
                x=cur["x"], y=cur["p"], mode="lines", xaxis=xref, yaxis=yref, hoverinfo="skip",
                line=dict(color=st["color"], width=LW, dash=st["dash"], shape="spline", smoothing=0.7)))
    else:
        sets = TWO_D[(PARAMS[c], PARAMS[r])]
        # filled credible regions first
        for key in ("sbi_aniso", "planck"):
            if key not in sets:
                continue
            cset = sets[key]
            fc = FILL[key]
            for lvl, col in (("95", fc["c95"]), ("68", fc["c68"])):
                fig.add_trace(go.Scatter(
                    x=closed(cset["x" + lvl]), y=closed(cset["y" + lvl]), mode="lines",
                    xaxis=xref, yaxis=yref, hoverinfo="skip", fill="toself", fillcolor=col,
                    line=dict(color=fc["edge"] if lvl == "95" else col, width=1.0,
                              shape="spline", smoothing=0.8)))
        # unfilled contour lines on top
        for key in ("nautilus_std", "nautilus_aniso", "sbi_std"):
            cset = sets[key]
            st = STYLE[key]
            for lvl in ("95", "68"):
                fig.add_trace(go.Scatter(
                    x=closed(cset["x" + lvl]), y=closed(cset["y" + lvl]), mode="lines",
                    xaxis=xref, yaxis=yref, hoverinfo="skip",
                    line=dict(color=st["color"], width=LW, dash=st["dash"], shape="spline",
                              smoothing=0.8)))

# ---------------- axis titles ----------------
annotations = []
AX_FONT = dict(family=SERIF, size=44, color="black")
X_TITLES = ["Ω<sub>m</sub>", "<i>S</i><sub>8</sub>", "<i>σ</i><sub>8</sub>", "<i>A</i><sub>IA</sub>"]
X_TITLE_PX = [(400, 1898), (851, 1898), (1298, 1898), (1751, 1898)]
Y_TITLES = ["<i>S</i><sub>8</sub>", "<i>σ</i><sub>8</sub>", "<i>A</i><sub>IA</sub>"]
Y_TITLE_PX = [(68, 682), (86, 1138), (116, 1590)]
for txt, (px_, py_) in zip(X_TITLES, X_TITLE_PX):
    annotations.append(dict(text=txt, x=px_ / W, y=1 - py_ / H, xref="paper", yref="paper",
                            showarrow=False, xanchor="center", yanchor="middle", font=AX_FONT,
                            borderpad=0))
for txt, (px_, py_) in zip(Y_TITLES, Y_TITLE_PX):
    annotations.append(dict(text=txt, x=px_ / W, y=1 - py_ / H, xref="paper", yref="paper",
                            showarrow=False, xanchor="center", yanchor="middle", textangle=-90,
                            font=AX_FONT, borderpad=0))

# ---------------- legend ----------------
shapes = []
LX0, LY0, LX1, LY1, RAD = 961.6, 12.7, 1975.4, 333.7, 9.0


def px(x):
    return x / W


def py(y):
    return 1 - y / H


box = (f"M {px(LX0 + RAD)},{py(LY0)} L {px(LX1 - RAD)},{py(LY0)} "
       f"Q {px(LX1)},{py(LY0)} {px(LX1)},{py(LY0 + RAD)} L {px(LX1)},{py(LY1 - RAD)} "
       f"Q {px(LX1)},{py(LY1)} {px(LX1 - RAD)},{py(LY1)} L {px(LX0 + RAD)},{py(LY1)} "
       f"Q {px(LX0)},{py(LY1)} {px(LX0)},{py(LY1 - RAD)} L {px(LX0)},{py(LY0 + RAD)} "
       f"Q {px(LX0)},{py(LY0)} {px(LX0 + RAD)},{py(LY0)} Z")
shapes.append(dict(type="path", path=box, xref="paper", yref="paper",
                   line=dict(color="#CCCCCC", width=1.5), fillcolor="white", layer="above"))

ROW_PX = [47.0, 108.5, 170.0, 231.5, 293.0]
SAMPLE_X0, SAMPLE_X1 = 977.0, 1067.0
legend_keys = ["nautilus_std", "nautilus_aniso", "sbi_std", "sbi_aniso", "planck"]
for i, key in enumerate(legend_keys):
    yc = ROW_PX[i]
    if key in FILL:
        shapes.append(dict(type="rect", xref="paper", yref="paper", x0=px(SAMPLE_X0), x1=px(SAMPLE_X1),
                           y0=py(yc + 16.5), y1=py(yc - 16.5), fillcolor=FILL[key]["c68"],
                           line=dict(width=0), layer="above"))
    else:
        st = STYLE[key]
        shapes.append(dict(type="line", xref="paper", yref="paper", x0=px(SAMPLE_X0), x1=px(SAMPLE_X1),
                           y0=py(yc), y1=py(yc), line=dict(color=st["color"], width=LW, dash=st["dash"]),
                           layer="above"))
    annotations.append(dict(text=LEGEND_LABELS[i], x=px(1102), y=py(yc), xref="paper", yref="paper",
                            showarrow=False, xanchor="left", yanchor="middle",
                            font=dict(family=SERIF, size=43, color="black")))

# ---------------- headline text ----------------
HEAD_FONT = dict(family="Noto Sans", size=122, color="black")
annotations.append(dict(text="<b><i>SBI broad</i></b>", x=px(1428), y=py(563), xref="paper", yref="paper",
                        showarrow=False, xanchor="left", yanchor="middle", font=HEAD_FONT, borderpad=0))
annotations.append(dict(text="<b><i>the errors</i></b>", x=px(1434), y=py(700), xref="paper", yref="paper",
                        showarrow=False, xanchor="left", yanchor="middle", font=HEAD_FONT, borderpad=0))

layout["annotations"] = annotations
layout["shapes"] = shapes
fig.update_layout(**layout)
fig.write_html("out.html")
